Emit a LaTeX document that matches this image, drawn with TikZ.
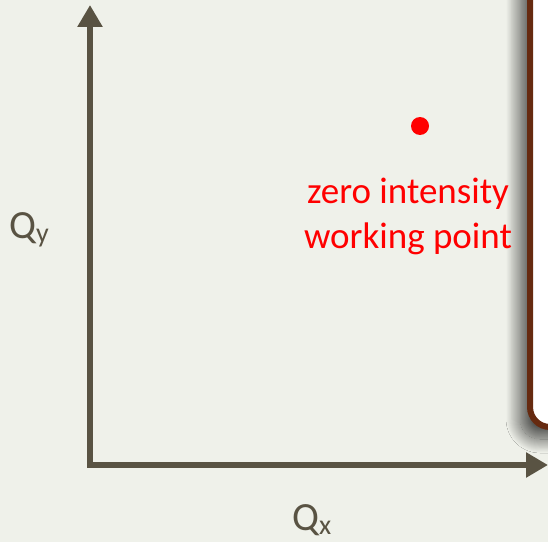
\documentclass[tikz,border=0pt]{standalone}
\usepackage{fontspec}
\setmainfont{Carlito}
\usetikzlibrary{arrows.meta,positioning,shadows.blur}
\definecolor{slide}{RGB}{239,241,234}
\definecolor{axisgrey}{RGB}{89,83,67}
\definecolor{boxbrown}{RGB}{102,42,16}
\definecolor{pointred}{RGB}{255,0,0}

\begin{document}
\begin{tikzpicture}[x=1pt,y=1pt,font=\fontsize{37}{45}\selectfont,
 axis/.style={axisgrey,line width=5.5pt,{Triangle[length=22pt,width=24pt]}-{Triangle[length=22pt,width=24pt]}},
 lbl/.style={axisgrey,inner sep=0pt,anchor=base west,font=\fontsize{40}{44}\selectfont}]
\useasboundingbox (0,0) rectangle (548,542);
\clip (0,0) rectangle (548,542);
\fill[slide] (0,0) rectangle (548,542);
% panel on the right, cut by the page edge
\draw[boxbrown,line width=6pt,fill=white,rounded corners=20pt,
 blur shadow={shadow xshift=-10pt,shadow yshift=-12pt,shadow blur radius=14pt,
  shadow blur steps=30,shadow opacity=70}]
 (530,115) rectangle (650,650);
% axes
\coordinate (origin) at (90,77);
\coordinate (ytop) at (90,537);
\coordinate (xend) at (548,77);
\draw[axis] (ytop) -- (origin) -- (xend);
\node[lbl] (qy) at (9,304) {Q\textsubscript{y}};
\node[lbl] (qx) at (292,12) {Q\textsubscript{x}};
% working point
\node[circle,fill=pointred,minimum size=18pt,inner sep=0pt] (wp) at (420,416) {};
\node[pointred,align=center,anchor=base] (wplabel) at (408,294) {zero intensity\\working point};
\end{tikzpicture}
\end{document}
